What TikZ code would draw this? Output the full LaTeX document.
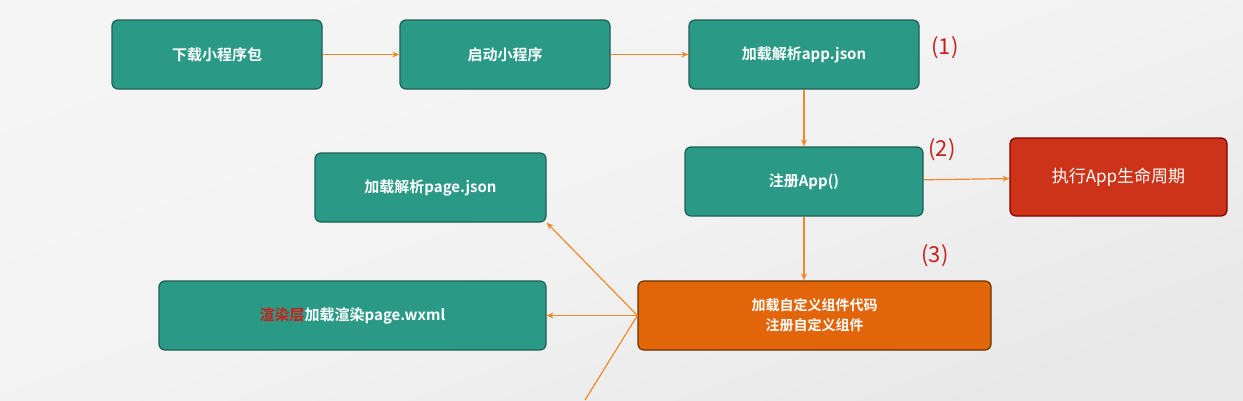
\documentclass[tikz,border=0pt]{standalone}
\usepackage{fontspec}
\setmainfont{Noto Sans CJK SC}
\newfontfamily\cjkbold{Noto Sans CJK SC Bold}
\usetikzlibrary{arrows.meta}
\definecolor{tealbox}{HTML}{2A9A86}
\definecolor{tealedge}{HTML}{1C5F55}
\definecolor{orangebox}{HTML}{E2650A}
\definecolor{redbox}{HTML}{CC3318}
\definecolor{arrowc}{HTML}{F0892A}
\definecolor{numred}{HTML}{C8201A}
\tikzset{
	stepbox/.style={draw=tealedge,fill=tealbox,rounded corners=6pt,line width=1.2pt,
		text=white,font=\cjkbold\fontsize{15}{18}\selectfont,inner sep=0pt},
	flow/.style={draw=arrowc,line width=1.2pt,-{Stealth[length=7pt,width=6pt]}},
	num/.style={text=numred,font=\fontsize{22}{24}\selectfont}
}
\begin{document}
\begin{tikzpicture}[x=1pt,y=-1pt]
	\shade[top color=white!92!gray,bottom color=gray!18,middle color=gray!10,shading angle=20] (0,0) rectangle (1243,400);
	\useasboundingbox (0,0) rectangle (1243,400);
	
	\node[stepbox,minimum width=210,minimum height=69] (dl) at (217,54.5) {下载小程序包};
	\node[stepbox,minimum width=210,minimum height=69] (st) at (505,54.5) {启动小程序};
	\node[stepbox,minimum width=230,minimum height=69] (aj) at (804,54.5) {加载解析app.json};
	\node[stepbox,minimum width=238,minimum height=69] (ra) at (804,181.5) {注册App()};
	\node[stepbox,draw=red!50!black,fill=redbox,font=\fontsize{17}{20}\selectfont,minimum width=217,minimum height=78] (lc) at (1118.5,177) {执行App生命周期};
	\node[stepbox,minimum width=231,minimum height=69] (pj) at (430.5,187.5) {加载解析page.json};
	\node[stepbox,draw=orange!40!black,fill=orangebox,align=center,font=\cjkbold\fontsize{14}{20}\selectfont,minimum width=353,minimum height=69] (cc) at (814.5,315.5) {加载自定义组件代码\\注册自定义组件};
	\node[stepbox,minimum width=387,minimum height=69] (wx) at (352.5,315.5) {\textcolor{numred}{渲染层}加载渲染page.wxml};
	
	\node[num] (n1) at (945,48) {(1)};
	\node[num] (n2) at (942,150) {(2)};
	\node[num] (n3) at (935,256) {(3)};
	
	\coordinate (out) at (585,400);
	
	\draw[flow] (dl) -- (st);
	\draw[flow] (st) -- (aj);
	\draw[flow] (aj) -- (ra);
	\draw[flow] (ra) -- (lc);
	\draw[flow] (ra) -- (ra|-cc.north);
	\draw[flow] (cc.west) -- (pj.south east);
	\draw[flow] (cc.west) -- (wx);
	\draw[draw=arrowc,line width=1.2pt] (cc.west) -- (out);
	
\end{tikzpicture}
\end{document}
